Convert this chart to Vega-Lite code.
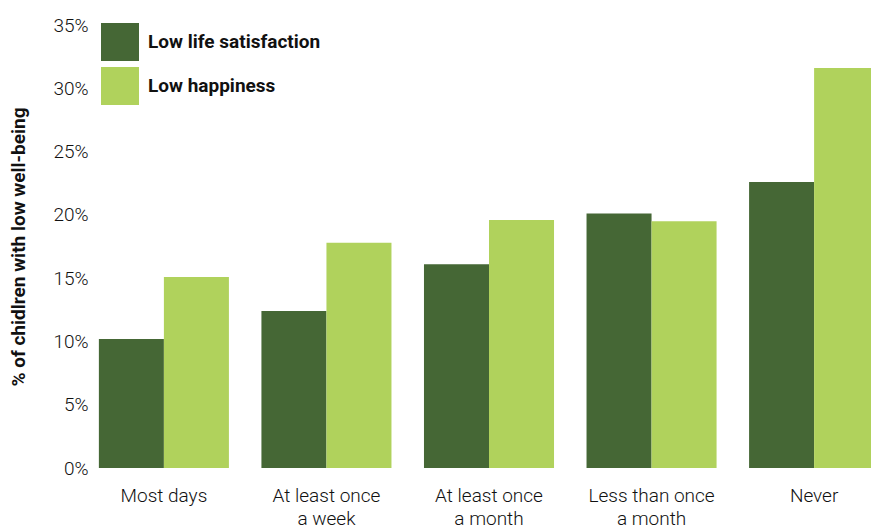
{
  "$schema": "https://vega.github.io/schema/vega-lite/v6.json",
  "width": 790,
  "height": 443,
  "padding": {"left": 94, "top": 25, "right": 0, "bottom": 57},
  "autosize": {"type": "none"},
  "background": "white",
  "config": {"view": {"stroke": null}, "font": "Roboto"},
  "data": {
    "values": [
      {"category": "Most days", "series": "Low life satisfaction", "value": 10.2},
      {"category": "Most days", "series": "Low happiness", "value": 15.1},
      {"category": "At least once a week", "series": "Low life satisfaction", "value": 12.4},
      {"category": "At least once a week", "series": "Low happiness", "value": 17.8},
      {"category": "At least once a month", "series": "Low life satisfaction", "value": 16.1},
      {"category": "At least once a month", "series": "Low happiness", "value": 19.6},
      {"category": "Less than once a month", "series": "Low life satisfaction", "value": 20.1},
      {"category": "Less than once a month", "series": "Low happiness", "value": 19.5},
      {"category": "Never", "series": "Low life satisfaction", "value": 22.6},
      {"category": "Never", "series": "Low happiness", "value": 31.6}
    ]
  },
  "mark": {"type": "bar"},
  "encoding": {
    "x": {
      "field": "category",
      "type": "nominal",
      "sort": ["Most days", "At least once a week", "At least once a month", "Less than once a month", "Never"],
      "scale": {"paddingInner": 0.2, "paddingOuter": 0.03},
      "axis": {
        "title": null,
        "labelAngle": 0,
        "ticks": false,
        "domain": false,
        "labelPadding": 18,
        "labelFontSize": 19,
        "labelFontWeight": 300,
        "labelColor": "#111111",
        "labelLineHeight": 23,
        "labelExpr": "datum.label == 'At least once a week' ? ['At least once', 'a week'] : datum.label == 'At least once a month' ? ['At least once', 'a month'] : datum.label == 'Less than once a month' ? ['Less than once', 'a month'] : datum.label"
      }
    },
    "xOffset": {
      "field": "series",
      "type": "nominal",
      "sort": ["Low life satisfaction", "Low happiness"],
      "scale": {"paddingInner": 0, "paddingOuter": 0}
    },
    "y": {
      "field": "value",
      "type": "quantitative",
      "scale": {"domain": [0, 35], "nice": false},
      "axis": {
        "title": "% of chidlren with low well-being",
        "titleFontSize": 19,
        "titleFontWeight": "bold",
        "titleColor": "#111111",
        "titlePadding": 24,
        "values": [0, 5, 10, 15, 20, 25, 30, 35],
        "labelExpr": "datum.value + '%'",
        "labelFontSize": 19,
        "labelFontWeight": 300,
        "labelColor": "#111111",
        "labelPadding": 6,
        "ticks": false,
        "domain": false,
        "grid": false
      }
    },
    "color": {
      "field": "series",
      "type": "nominal",
      "sort": ["Low life satisfaction", "Low happiness"],
      "scale": {"domain": ["Low life satisfaction", "Low happiness"], "range": ["#456735", "#b0d25c"]},
      "legend": {
        "title": null,
        "orient": "none",
        "legendX": 7,
        "legendY": -2,
        "symbolType": "square",
        "symbolSize": 1444,
        "symbolStrokeWidth": 0,
        "rowPadding": 6,
        "labelOffset": 9,
        "labelFontSize": 19,
        "labelFontWeight": "bold",
        "labelColor": "#111111",
        "labelLimit": 400,
        "padding": 0
      }
    }
  }
}
